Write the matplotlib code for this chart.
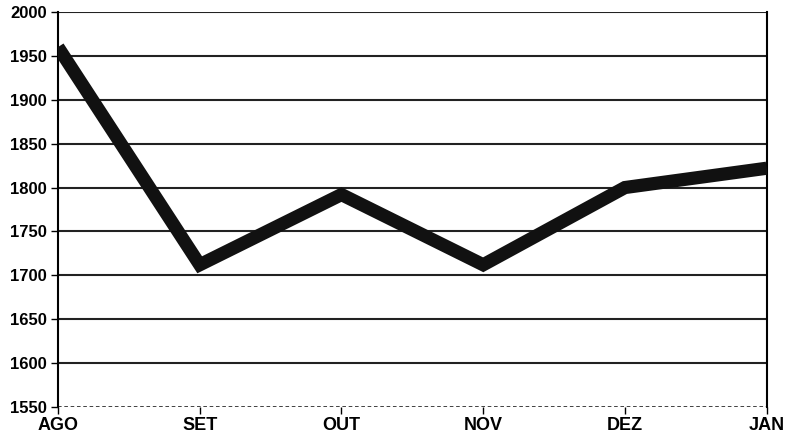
import matplotlib.pyplot as plt

meses = ["AGO", "SET", "OUT", "NOV", "DEZ", "JAN"]
valores = [1960, 1712, 1792, 1712, 1800, 1822]
yticks = [1550, 1600, 1650, 1700, 1750, 1800, 1850, 1900, 1950, 2000]

plt.rcParams['font.family'] = ['Liberation Sans Narrow', 'Liberation Sans', 'DejaVu Sans']

fig = plt.figure(figsize=(7.92, 4.42), dpi=100)
ax = fig.add_axes([0.0732, 0.0792, 0.8948, 0.8937])

x = list(range(len(meses)))
ax.plot(x, valores, color="#111111", lw=9.5, solid_joinstyle="miter", solid_capstyle="butt", zorder=3)

ax.set_xlim(0, len(meses) - 1)
ax.set_ylim(1550, 2000)
ax.set_yticks(yticks)
ax.set_xticks(x)
ax.set_xticklabels(meses)

for v in yticks[1:]:
    ax.axhline(v, color="#222222", lw=1.5, zorder=1)
ax.axhline(1550, color="#333333", lw=1.3, ls=(0, (2, 1.5)), zorder=1)

ax.spines["top"].set_visible(False)
ax.spines["bottom"].set_visible(False)
ax.spines["left"].set_linewidth(1.5)
ax.spines["right"].set_linewidth(1.5)

ax.tick_params(axis="y", length=5, width=1, labelsize=12, pad=3)
ax.tick_params(axis="x", length=5, width=1, labelsize=13, pad=2)
for t in ax.get_xticklabels() + ax.get_yticklabels():
    t.set_fontweight("bold")

fig.savefig("out.png", dpi=100)
